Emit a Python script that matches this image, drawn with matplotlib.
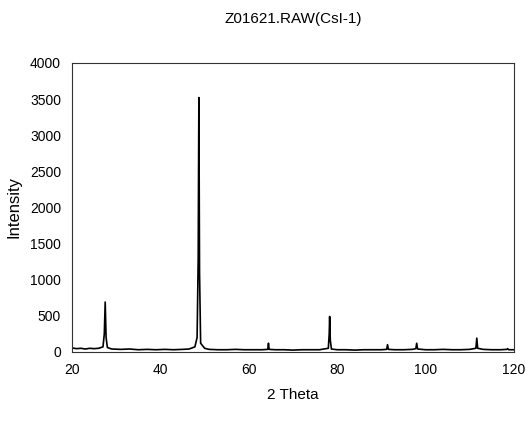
import matplotlib.pyplot as plt
from matplotlib import font_manager

# hand-read trace of the XRD pattern (2 theta, intensity)
two_theta = [20.0, 21.0, 22.0, 23.0, 24.0, 25.0, 26.0, 27.0, 27.3, 27.5, 27.7, 28.0,
             29.0, 31.0, 33.0, 35.0, 37.0, 39.0, 41.0, 43.0, 45.0, 46.5, 47.8, 48.3,
             48.55, 48.7, 48.85, 49.1, 50.0, 51.0, 53.0, 55.0, 57.0, 59.0, 61.0, 63.0,
             64.3, 64.45, 64.6, 66.0, 68.0, 70.0, 72.0, 74.0, 76.0, 78.0, 78.2, 78.3,
             78.45, 78.7, 80.0, 82.0, 84.0, 86.0, 88.0, 90.0, 91.2, 91.4, 91.6, 93.0,
             95.0, 97.0, 97.8, 98.0, 98.2, 100.0, 102.0, 104.0, 106.0, 108.0, 110.0,
             111.4, 111.6, 111.8, 113.0, 115.0, 117.0, 118.4, 118.6, 118.8, 120.0]
intensity = [55, 45, 50, 40, 50, 45, 50, 70, 250, 690, 200, 60,
             40, 35, 40, 30, 35, 30, 35, 30, 35, 40, 70, 200,
             1300, 3520, 1100, 120, 50, 35, 30, 30, 35, 30, 30, 30,
             35, 120, 35, 30, 30, 25, 30, 30, 30, 50, 250, 490,
             160, 40, 30, 30, 25, 30, 30, 30, 35, 100, 35, 30,
             30, 35, 45, 120, 40, 30, 30, 35, 30, 30, 35,
             50, 190, 50, 35, 30, 30, 35, 45, 30, 30]

x_ticks = [20, 40, 60, 80, 100, 120]
y_ticks = [0, 500, 1000, 1500, 2000, 2500, 3000, 3500, 4000]

names = {f.name for f in font_manager.fontManager.ttflist}
fam = "Liberation Sans Narrow" if "Liberation Sans Narrow" in names else "Liberation Sans"
plt.rcParams["font.family"] = [fam, "DejaVu Sans"]

fig = plt.figure(figsize=(5.26, 4.25), dpi=100)
ax = fig.add_axes([0.137, 0.172, 0.840, 0.680])
ax.plot(two_theta, intensity, color="black", linewidth=1.2)

ax.set_xlim(20, 120)
ax.set_ylim(0, 4000)
ax.set_xticks(x_ticks)
ax.set_yticks(y_ticks)
ax.tick_params(length=0, labelsize=10, pad=8)
for s in ax.spines.values():
    s.set_linewidth(0.8)
    s.set_color("#333333")

ax.set_xlabel("2 Theta", fontsize=11, labelpad=8)
ax.set_ylabel("Intensity", fontsize=12, labelpad=6)
fig.text(0.557, 0.955, "Z01621.RAW(CsI-1)", ha="center", va="center", fontsize=11)

fig.savefig("out.png", dpi=100)
